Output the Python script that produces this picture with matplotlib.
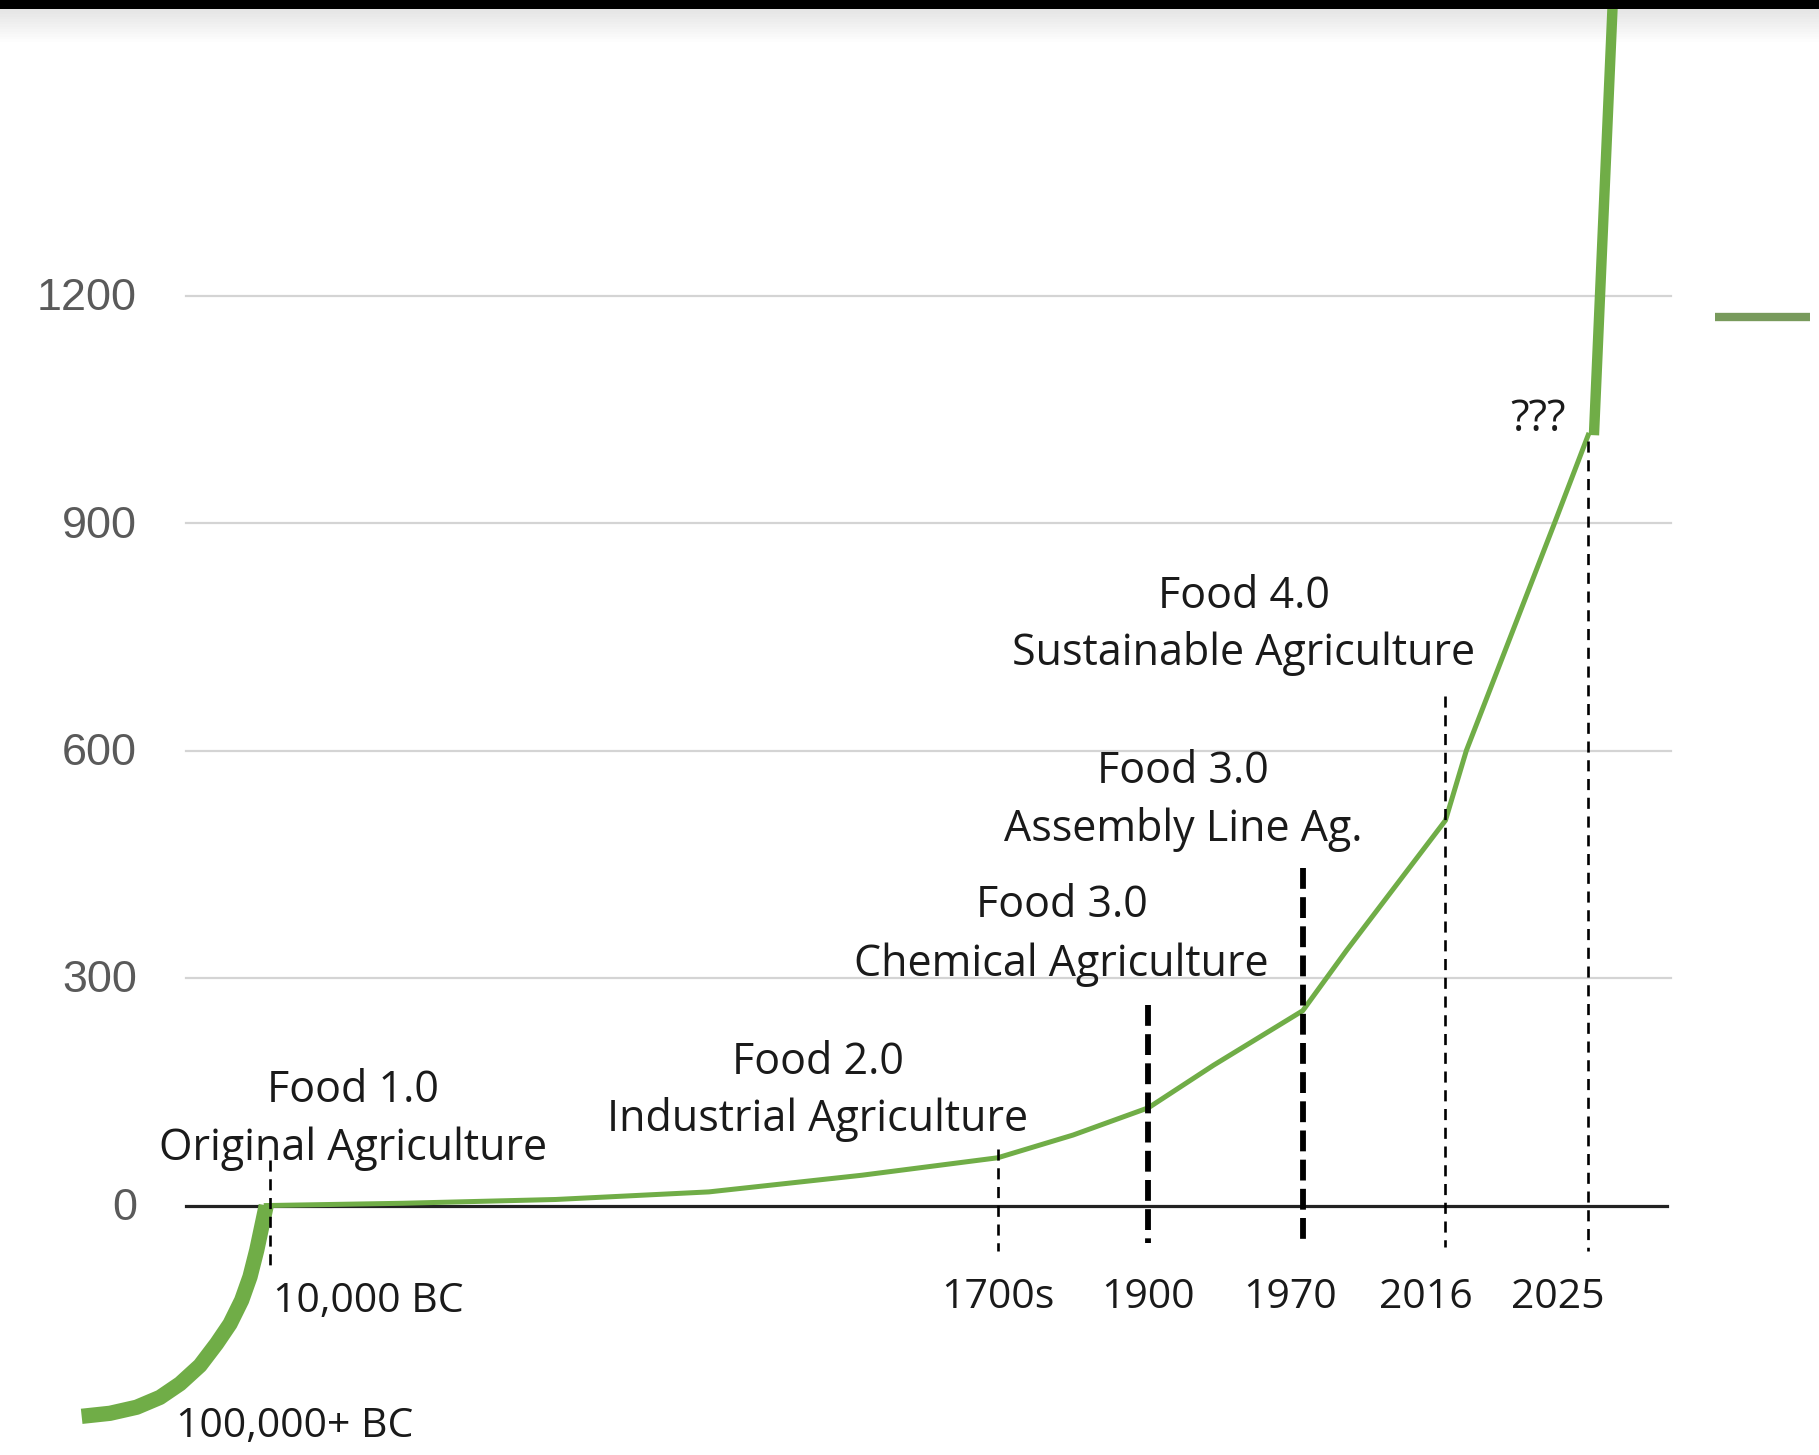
import matplotlib
matplotlib.use("Agg")
import matplotlib.pyplot as plt
from matplotlib.patches import Rectangle

# ---------------- data ----------------
milestones = ["10,000 BC", "1700s", "1900", "1970", "2016", "2025"]
milestone_x = [0.0, 6.27, 7.57, 8.90, 10.13, 11.36]   # schematic timeline position
start_label = "100,000+ BC"

# early thick curve: 100,000+ BC -> 10,000 BC
early_x = [-1.626, -1.382, -1.152, -0.951, -0.778, -0.606, -0.462, -0.347,
           -0.247, -0.175, -0.117, -0.074, -0.035]
early_v = [-278, -274, -266, -253, -235, -211, -182, -156, -125, -94, -59, -28, 0]

# main curve: 10,000 BC -> 2025
main_x = [-0.035, 1.14, 2.46, 3.78, 5.10, 6.27, 6.92, 7.57, 8.13, 8.90, 9.28, 10.13, 10.31, 11.07, 11.36]
main_v = [0, 3, 8, 18, 40, 63, 93, 129, 185, 257, 337, 508, 600, 900, 1016]

# future jump after 2025
future_x = [11.41, 11.59]
future_v = [1016, 1650]

yticks = [0, 300, 600, 900, 1200]

eras = [("Food 1.0", "Original Agriculture"),
        ("Food 2.0", "Industrial Agriculture"),
        ("Food 3.0", "Chemical Agriculture"),
        ("Food 3.0", "Assembly Line Ag."),
        ("Food 4.0", "Sustainable Agriculture")]
future_label = "???"

# ---------------- figure ----------------
W, H = 1819, 1455
fig = plt.figure(figsize=(W / 100, H / 100), dpi=100)
fig.patch.set_facecolor("white")
ax = fig.add_axes([0, 0, 1, 1])
ax.set_xlim(-2.33, 13.35)
ax.set_ylim(-329, 1590)
ax.axis("off")
ax.patch.set_alpha(0)
plt.rcParams["lines.scale_dashes"] = False

renderer = fig.canvas.get_renderer()


def fit_size(text, family, target_px, base=20.0):
    t = fig.text(0, 0, text, fontsize=base, family=family)
    w = t.get_window_extent(renderer).width
    t.remove()
    return base * target_px / w


ANN_FONT = "Open Sans"
ann_size = fit_size("Sustainable Agriculture", ANN_FONT, 463)
xl_size = fit_size("10,000 BC", ANN_FONT, 191)
yl_size = fit_size("1200", "Liberation Sans", 100)

GREEN = "#70AD47"

# top black band with soft shadow (behind the axes content)
for i in range(14):
    c = 0.90 + 0.1 * i / 13
    fig.patches.append(Rectangle((0, 1 - (9 + 2.5 * (i + 1)) / H), 1, 2.5 / H,
                                 transform=fig.transFigure, color=(c, c, c),
                                 lw=0, zorder=-5))
fig.patches.append(Rectangle((0, 1 - 9 / H), 1, 9 / H, transform=fig.transFigure,
                             color="black", lw=0, zorder=10))

# gridlines
for v in yticks[1:]:
    ax.plot([-0.73, 12.07], [v, v], color="#d4d4d4", lw=1.6, zorder=1)
ax.plot([-0.73, 12.04], [0, 0], color="#222222", lw=2.3, zorder=2)

# y tick labels
for v in yticks:
    ax.text(-1.15, v - 19, f"{v}", ha="right", va="baseline",
            fontsize=yl_size, family="Liberation Sans", color="#5a5a5a")

# curves
ax.plot(early_x, early_v, color=GREEN, lw=11, solid_capstyle="butt",
        solid_joinstyle="round", zorder=3)
ax.plot(main_x, main_v, color=GREEN, lw=3.6, solid_joinstyle="round", zorder=3)
ax.plot(future_x, future_v, color=GREEN, lw=7.5, solid_capstyle="butt", zorder=3)

# dashed milestone lines
tops = [60, 75, 265, 445, 672, 1009]
bottoms = [-86, -60, -50, -55, -55, -60]
thick = [False, False, True, True, False, False]
for x, t, b, th in zip(milestone_x, tops, bottoms, thick):
    if th:
        ax.plot([x, x], [t, b], color="black", lw=4.2, dashes=(15, 6), zorder=4)
    else:
        ax.plot([x, x], [t, b], color="black", lw=1.9, dashes=(8, 5.5), zorder=4)

# x labels
ax.text(0.02, -141, milestones[0], ha="left", va="baseline", fontsize=xl_size,
        family=ANN_FONT, color="#1a1a1a")
ax.text(-0.81, -305, start_label, ha="left", va="baseline", fontsize=xl_size,
        family=ANN_FONT, color="#1a1a1a")
label_shift = [0, 0.0, 0.0, -0.11, -0.17, -0.26]
for lab, x, s in list(zip(milestones, milestone_x, label_shift))[1:]:
    ax.text(x + s, -135, lab, ha="center", va="baseline", fontsize=xl_size,
            family=ANN_FONT, color="#1a1a1a")

# era annotations
era_cx = [0.71, 4.72, 6.82, 7.87, 8.39]
era_base = [(136, 60), (173, 98), (380, 303), (557, 481), (788, 713)]
for (l1, l2), cx, (b1, b2) in zip(eras, era_cx, era_base):
    ax.text(cx, b1, l1, ha="center", va="baseline", fontsize=ann_size,
            family=ANN_FONT, color="#1a1a1a", zorder=5)
    ax.text(cx, b2, l2, ha="center", va="baseline", fontsize=ann_size,
            family=ANN_FONT, color="#1a1a1a", zorder=5)

ax.text(10.93, 1021, future_label, ha="center", va="baseline",
        fontsize=ann_size, family=ANN_FONT, color="#1a1a1a")

# legend-like marker at right
ax.plot([12.45, 13.27], [1172, 1172], color="#789a5c", lw=6, solid_capstyle="butt")

fig.savefig("out.png", dpi=100, facecolor="white")
